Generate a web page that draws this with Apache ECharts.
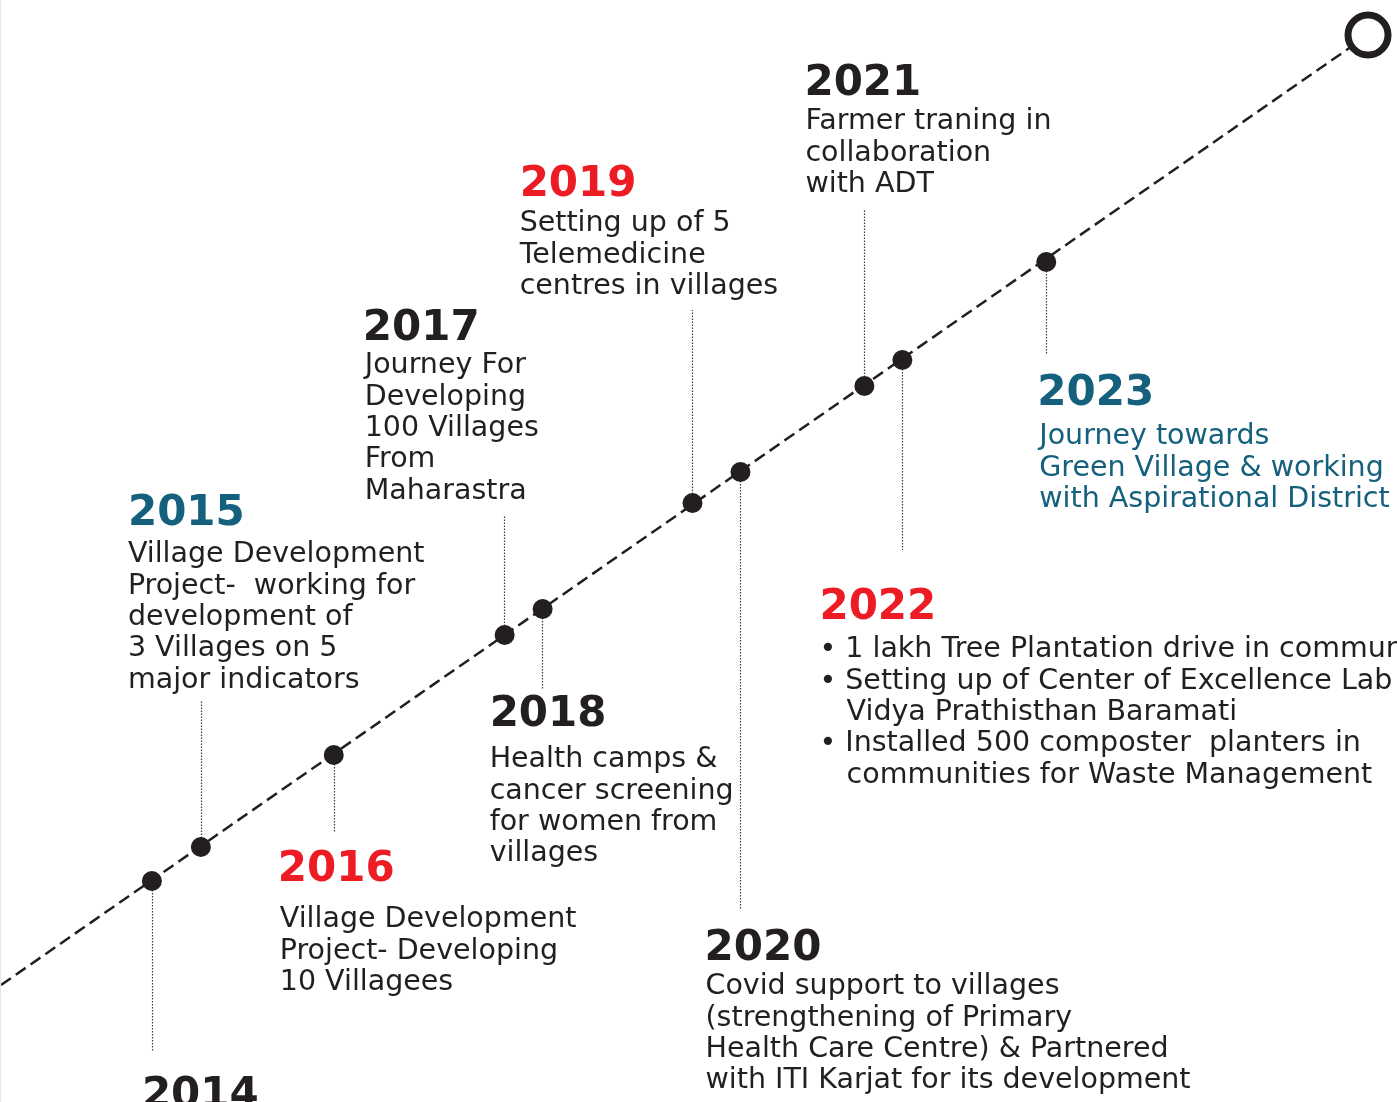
<!DOCTYPE html>
<html>
<head>
<meta charset="utf-8">
<title>Journey timeline</title>
<script src="https://cdn.jsdelivr.net/npm/echarts@6/dist/echarts.min.js"></script>
<style>
  html, body { margin: 0; padding: 0; background: #fff; }
  #chart { width: 1397px; height: 1102px; border-left: 1px solid #e6e6e6; box-sizing: border-box; }
</style>
</head>
<body>
<div id="chart"></div>
<script>
// milestones along the timeline
var years = ['2014', '2015', '2016', '2017', '2018', '2019', '2020', '2021', '2022', '2023'];
var dotX = [151, 200, 333, 504, 542, 692, 740, 864, 902, 1046];
var dotY = [881, 847, 755, 635, 609, 503, 472, 386, 360, 262];
// where each dotted leader stops
var leaderEnd = [1052, 700, 832, 515, 690, 310, 910, 210, 550, 355];
// the dashed path and its end ring
var pathStart = [0, 985];
var pathEnd = [1368, 35];

var notes = [
  [],
  ['Village Development', 'Project-  working for', 'development of', '3 Villages on 5', 'major indicators'],
  ['Village Development', 'Project- Developing', '10 Villagees'],
  ['Journey For', 'Developing', '100 Villages', 'From', 'Maharastra'],
  ['Health camps &', 'cancer screening', 'for women from', 'villages'],
  ['Setting up of 5', 'Telemedicine', 'centres in villages'],
  ['Covid support to villages', '(strengthening of Primary', 'Health Care Centre) & Partnered', 'with ITI Karjat for its development'],
  ['Farmer traning in', 'collaboration', 'with ADT'],
  ['\u2022 1 lakh Tree Plantation drive in communities', '\u2022 Setting up of Center of Excellence Lab at', '   Vidya Prathisthan Baramati', '\u2022 Installed 500 composter  planters in', '   communities for Waste Management'],
  ['Journey towards', 'Green Village & working', 'with Aspirational District']
];

// layout: year heading (left, middle of digits) and first note line (left, middle)
var yearAt = [[141, 1096], [127, 514], [277, 870], [362, 329], [489, 715], [519, 185], [704, 949], [804, 84], [819, 608], [1037, 394]];
var noteAt = [[141, 1143], [127, 555], [279, 920], [364, 366], [489, 760], [519, 224], [705, 987], [805, 122], [819, 650], [1039, 437]];
var tone = ['dark', 'teal', 'red', 'dark', 'dark', 'red', 'dark', 'dark', 'red', 'teal'];

var colors = { dark: '#231f20', red: '#ed1c24', teal: '#14607d' };
var LH = 31.3;

var chart = echarts.init(document.getElementById('chart'));

var dots = [], leaders = [], yearItems = [], noteItems = [];
for (var i = 0; i < years.length; i++) {
  dots.push([dotX[i], dotY[i]]);
  leaders.push({ coords: [[dotX[i], dotY[i]], [dotX[i], leaderEnd[i]]] });
  yearItems.push({
    value: yearAt[i], name: years[i],
    label: { color: colors[tone[i]] }
  });
  noteItems.push({
    value: [noteAt[i][0], noteAt[i][1] - LH / 2], name: notes[i].join('\n'),
    label: { color: i === 9 ? colors.teal : colors.dark }
  });
}

var option = {
  animation: false,
  backgroundColor: '#fff',
  grid: { left: 0, right: 0, top: 0, bottom: 0 },
  xAxis: { type: 'value', min: 0, max: 1397, show: false },
  yAxis: { type: 'value', min: 0, max: 1102, inverse: true, show: false },
  series: [
    {
      type: 'line',
      data: [pathStart, pathEnd],
      symbol: 'none',
      lineStyle: { color: '#231f20', width: 2.5, type: [12, 6] },
      z: 1
    },
    {
      type: 'lines',
      coordinateSystem: 'cartesian2d',
      data: leaders,
      lineStyle: { color: '#3a3a3a', width: 1.2, type: [1.4, 1.6], opacity: 1 },
      z: 1
    },
    {
      type: 'scatter',
      data: dots,
      symbolSize: 20,
      itemStyle: { color: '#231f20', opacity: 1 },
      z: 3
    },
    {
      type: 'scatter',
      data: [pathEnd],
      symbolSize: 40,
      itemStyle: { color: '#fff', borderColor: '#231f20', borderWidth: 7, opacity: 1 },
      z: 3
    },
    {
      type: 'scatter',
      data: yearItems,
      symbolSize: 0,
      silent: true,
      itemStyle: { opacity: 1 },
      label: {
        show: true, position: [0, 0], align: 'left', verticalAlign: 'middle',
        formatter: '{b}',
        fontFamily: 'DejaVu Sans', fontWeight: 'bold', fontSize: 42
      },
      z: 4
    },
    {
      type: 'scatter',
      data: noteItems,
      symbolSize: 0,
      silent: true,
      itemStyle: { opacity: 1 },
      label: {
        show: true, position: [0, 0], align: 'left', verticalAlign: 'top',
        formatter: '{b}',
        fontFamily: 'DejaVu Sans', fontSize: 28.5, lineHeight: LH
      },
      z: 4
    }
  ]
};
chart.setOption(option);
</script>
</body>
</html>
